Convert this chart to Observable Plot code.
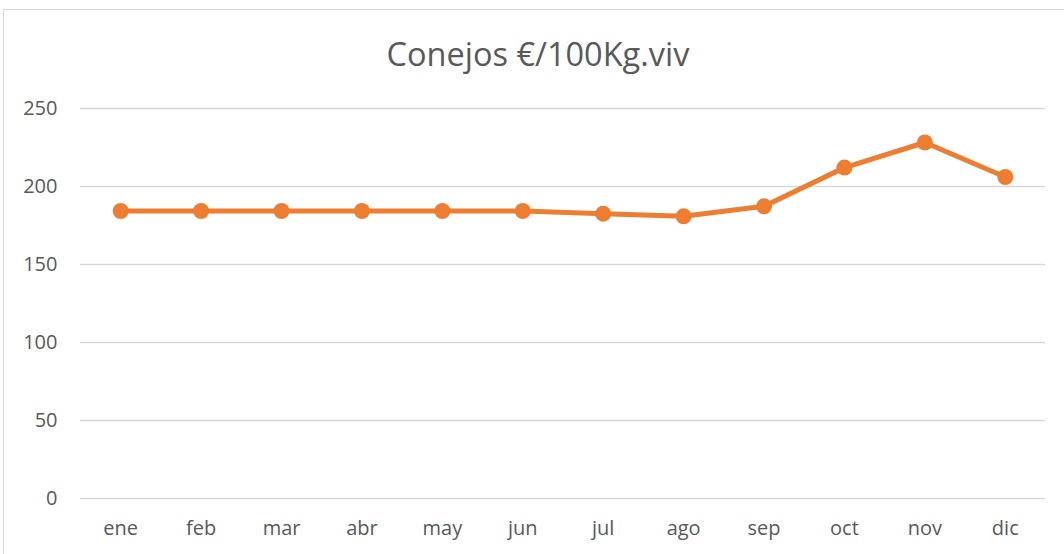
<!DOCTYPE html>
<html>
<head>
<meta charset="utf-8">
<script src="https://cdn.jsdelivr.net/npm/d3@7"></script>
<script src="https://cdn.jsdelivr.net/npm/@observablehq/plot@0.6"></script>
<style>
  html, body { margin: 0; padding: 0; background: #fff; overflow: hidden; }
  #frame { position: absolute; left: 3px; top: 9px; width: 1080px; height: 580px;
           border: 1.5px solid #d9d9d9; box-sizing: border-box; }
  #title { position: absolute; top: 35px; left: 538px; transform: translateX(-50%);
           font-family: "Open Sans", sans-serif; font-size: 32.5px; color: #595959;
           white-space: nowrap; line-height: 38px; }
  #chart { position: absolute; left: 0; top: 0; }
</style>
</head>
<body>
<div id="frame"></div>
<div id="chart"></div>
<div id="title">Conejos €/100Kg.viv</div>
<script>
const months = ["ene","feb","mar","abr","may","jun","jul","ago","sep","oct","nov","dic"];
const prices = [184.3,184.3,184.3,184.3,184.3,184.3,182.6,180.9,187.3,212.1,228.2,206.1];
const yTicks = [0,50,100,150,200,250];

const data = months.map((m, i) => ({month: m, value: prices[i]}));

const chart = Plot.plot({
  width: 1064,
  height: 554,
  marginLeft: 80,
  marginRight: 19,
  marginTop: 108,
  marginBottom: 56,
  style: {fontFamily: "Open Sans, sans-serif", color: "#595959", background: "transparent"},
  x: {type: "point", domain: months, padding: 0.5, round: false, label: null},
  y: {domain: [0, 250], label: null},
  marks: [
    Plot.ruleY(yTicks, {stroke: "#d9d9d9", strokeWidth: 1.5}),
    Plot.axisY(yTicks, {tickSize: 0, tickPadding: 23, fontSize: 20, label: null}),
    Plot.axisX({tickSize: 0, tickPadding: 22, fontSize: 20, label: null}),
    Plot.line(data, {x: "month", y: "value", stroke: "#ED7D31", strokeWidth: 5, strokeLinejoin: "round"}),
    Plot.dot(data, {x: "month", y: "value", r: 8, fill: "#ED7D31", stroke: "none"})
  ]
});
document.getElementById("chart").append(chart);
</script>
</body>
</html>
